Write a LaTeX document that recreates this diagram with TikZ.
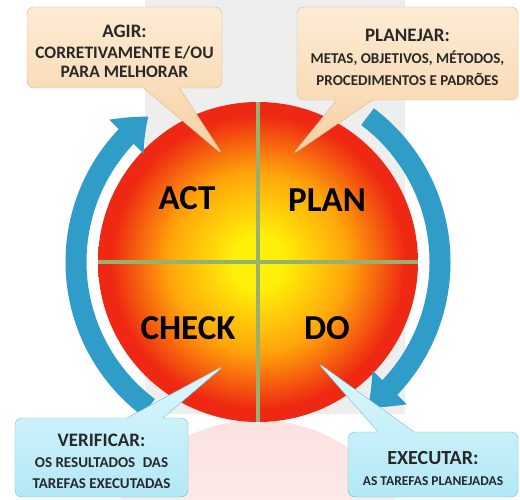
\documentclass[tikz,border=0pt]{standalone}
\usepackage{fontspec}
\setmainfont{Carlito}
\usetikzlibrary{arrows.meta, bending, positioning, calc, shapes.callouts}
\definecolor{CycleBlue}{RGB}{48,156,200}
\definecolor{CrossGreen}{RGB}{150,178,112}
\definecolor{WarmTop}{RGB}{253,236,212}
\definecolor{WarmBottom}{RGB}{246,208,164}
\definecolor{WarmEdge}{RGB}{222,180,130}
\definecolor{CoolTop}{RGB}{222,248,253}
\definecolor{CoolBottom}{RGB}{178,232,246}
\definecolor{CoolEdge}{RGB}{120,186,206}
\definecolor{SunYellow}{RGB}{255,240,10}
\definecolor{SunOrange}{RGB}{255,165,10}
\definecolor{SunRed}{RGB}{238,40,18}
\definecolor{BandGrey}{RGB}{238,238,238}
\definecolor{GlowPink}{RGB}{252,226,224}
\definecolor{TextDark}{RGB}{40,40,40}
\pgfdeclareradialshading{sun}{\pgfpoint{0bp}{0bp}}{color(0bp)=(SunYellow); color(4bp)=(SunYellow); color(14bp)=(SunOrange); color(23bp)=(SunRed); color(50bp)=(SunRed)}
\newcommand{\boxtitle}[2][19]{\rule{0pt}{21pt}{\fontsize{#1}{22}\selectfont #2}}

\begin{document}
\begin{tikzpicture}[x=1pt, y=1pt,
        phase/.style={font=\fontsize{35}{40}\selectfont\bfseries, text=black},
        callbox/.style={rectangle callout, rounded corners=7pt, align=center, inner sep=0pt,
            callout pointer width=36pt, text=TextDark},
        warmbox/.style={callbox, draw=WarmEdge, top color=WarmTop, bottom color=WarmBottom},
        coolbox/.style={callbox, draw=CoolEdge, top color=CoolTop, bottom color=CoolBottom},
        cyclearrow/.style={line width=21pt, CycleBlue, -{Triangle[length=30pt, width=46pt, bend]}}
    ]
        \useasboundingbox (0,0) rectangle (520,499);

        % background band and reflection
        \fill[BandGrey] (145,85) rectangle (405,499);
        \begin{scope}
            \clip (120,0) rectangle (400,79);
            \shade[top color=GlowPink, bottom color=white] (258,-81) circle (160);
        \end{scope}

        % wheel
        \node[circle, shading=sun, minimum size=320pt, inner sep=0pt] (wheel) at (258,237) {};
        \draw[CrossGreen, line width=4pt] (wheel.north) -- (wheel.south);
        \draw[CrossGreen, line width=4pt] (wheel.west) -- (wheel.east);

        \node[phase] (act) at (187,301) {ACT};
        \node[phase] (plan) at (327,299) {PLAN};
        \node[phase] (check) at (188,171) {CHECK};
        \node[phase] (do) at (327,171) {DO};

        % cycle arrows
        \coordinate (planend) at ($(wheel.center)+(53:182)$);
        \coordinate (checkend) at ($(wheel.center)+(233:182)$);
        \draw[cyclearrow] (planend) arc[start angle=53, end angle=-53, radius=182];
        \draw[cyclearrow] (checkend) arc[start angle=233, end angle=127, radius=182];

        % callouts
        \coordinate (agirtip) at (223,344);
        \coordinate (planejartip) at (292,344);
        \coordinate (verificartip) at (225,134);
        \coordinate (executartip) at (317,137);

        \node[warmbox, minimum width=195pt, minimum height=81pt, callout absolute pointer={(agirtip)},
            font=\bfseries\fontsize{17.5}{19.5}\selectfont]
            (agir) at (124.5,451.5) {\boxtitle{AGIR:}\\[1pt]CORRETIVAMENTE E/OU\\PARA MELHORAR};
        \node[warmbox, minimum width=221pt, minimum height=93pt, callout absolute pointer={(planejartip)},
            font=\bfseries\fontsize{15}{22}\selectfont]
            (planejar) at (407.5,445.5) {\boxtitle{PLANEJAR:}\\METAS, OBJETIVOS, MÉTODOS,\\PROCEDIMENTOS E PADRÕES};
        \node[coolbox, minimum width=173pt, minimum height=79pt, callout absolute pointer={(verificartip)},
            font=\bfseries\fontsize{15}{21}\selectfont]
            (verificar) at (101.5,41.5) {\boxtitle{VERIFICAR:}\\OS RESULTADOS\enspace DAS\\TAREFAS EXECUTADAS};
        \node[coolbox, minimum width=170pt, minimum height=65pt, callout absolute pointer={(executartip)},
            font=\bfseries\fontsize{13.5}{21}\selectfont]
            (executar) at (433,34.5) {\boxtitle[20]{EXECUTAR:}\\AS TAREFAS PLANEJADAS};
    \end{tikzpicture}
\end{document}
